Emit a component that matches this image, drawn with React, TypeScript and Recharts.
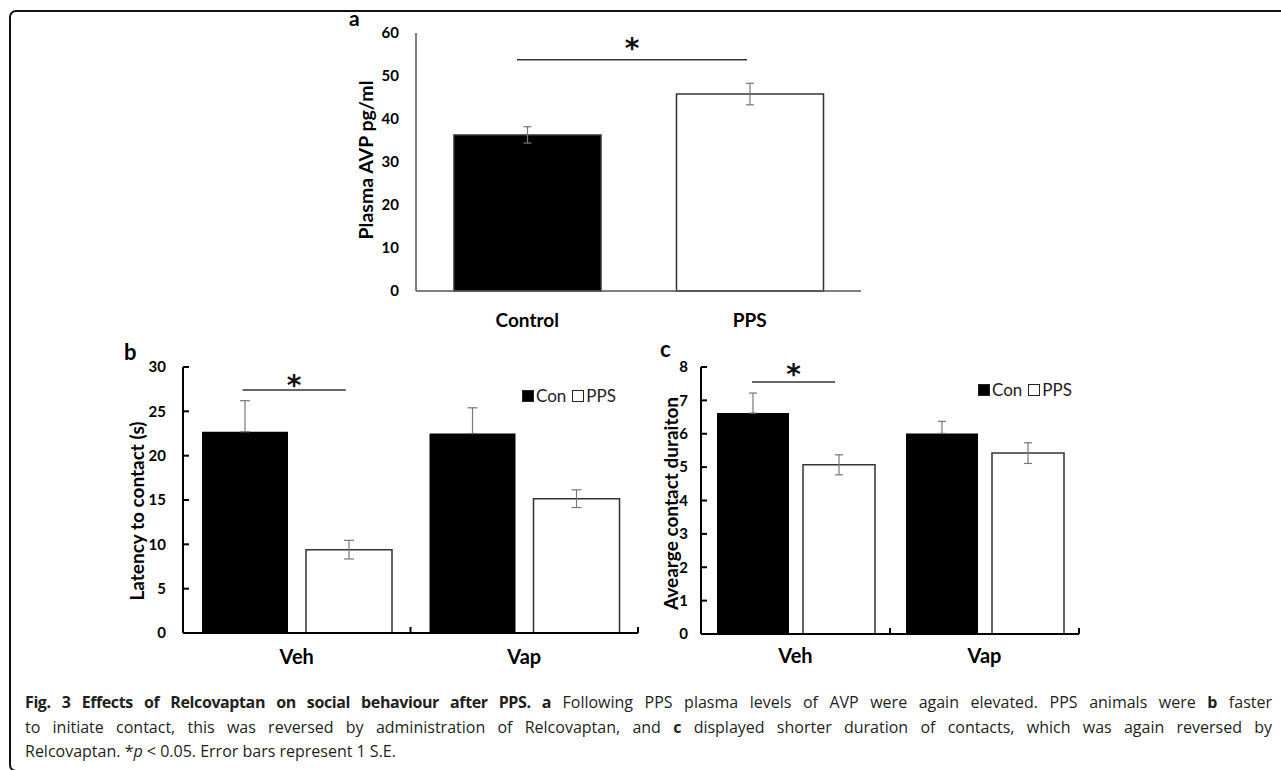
import React from "react";
import { BarChart, Bar, XAxis, YAxis, ErrorBar, Cell, Legend, ReferenceLine, Label } from "recharts";

const FONT = 'Lato, "Open Sans", sans-serif';

// panel a
const avpCategories = ["Control", "PPS"];
const avpValues = [36.3, 45.8];
const avpErrors = [1.9, 2.5];
const avpFills = ["#000000", "#ffffff"];
const avpTicks = [0, 10, 20, 30, 40, 50, 60];

// panels b and c share groups
const groupCategories = ["Veh", "Vap"];

const latencyCon = [22.7, 22.5];
const latencyConErr = [3.5, 2.9];
const latencyPps = [9.4, 15.15];
const latencyPpsErr = [1.05, 1.0];
const latencyTicks = [0, 5, 10, 15, 20, 25, 30];

const durationCon = [6.62, 6.01];
const durationConErr = [0.6, 0.36];
const durationPps = [5.07, 5.42];
const durationPpsErr = [0.3, 0.31];
const durationTicks = [0, 1, 2, 3, 4, 5, 6, 7, 8];

// significance bars: x as fraction of the x axis, y in data units
const avpSig = { x: [0.227, 0.744], y: 53.8 };
const latencySig = { x: [0.131, 0.3576], y: 27.4 };
const durationSig = { x: [0.135, 0.3545], y: 7.55 };

const avpData = avpCategories.map((c, i) => ({ name: c, value: avpValues[i], err: avpErrors[i] }));
const latencyData = groupCategories.map((g, i) => ({
  group: g,
  con: latencyCon[i],
  conErr: [0, latencyConErr[i]],
  pps: latencyPps[i],
  ppsErr: latencyPpsErr[i],
}));
const durationData = groupCategories.map((g, i) => ({
  group: g,
  con: durationCon[i],
  conErr: [0, durationConErr[i]],
  pps: durationPps[i],
  ppsErr: durationPpsErr[i],
}));

const XTick = ({ x, y, payload, dy, size, band }: any) => (
  <g>
    {band ? (
      <line x1={x + band / 2} y1={y} x2={x + band / 2} y2={y - 6} stroke="#000" strokeWidth={2} />
    ) : null}
    <text x={x} y={y + dy} textAnchor="middle" fontSize={size} fontWeight={700} fill="#000" fontFamily={FONT}>
      {payload.value}
    </text>
  </g>
);

const rotatedLabel = (text: string, dx: number, dy: number, size: number) => (props: any) => {
  const vb = props.viewBox;
  const cx = vb.x + dx;
  const cy = vb.y + vb.height / 2 + dy;
  return (
    <text
      x={cx}
      y={cy}
      transform={`rotate(-90 ${cx} ${cy})`}
      textAnchor="middle"
      dominantBaseline="central"
      fontSize={size}
      fontWeight={700}
      fill="#000"
      fontFamily={FONT}
    >
      {text}
    </text>
  );
};

const LegendContent = ({ payload }: any) => (
  <div style={{ display: "flex", alignItems: "center", fontFamily: FONT, fontSize: 17, color: "#222", whiteSpace: "nowrap" }}>
    {(payload || []).map((p: any, i: number) => (
      <span key={i} style={{ display: "flex", alignItems: "center", marginRight: 6 }}>
        <span
          style={{
            display: "inline-block",
            boxSizing: "border-box",
            width: 12,
            height: 12,
            background: p.payload?.fill ?? p.color,
            border: "1.5px solid #222",
            marginRight: 2,
          }}
        />
        {p.value}
      </span>
    ))}
  </div>
);

const starLabel = (offset: number) => ({
  value: "*",
  position: "top" as const,
  offset,
  fill: "#111",
  fontSize: 28,
  fontWeight: 700,
  fontFamily: '"DejaVu Sans", sans-serif',
});

const App = () => (
  <div style={{ position: "absolute", left: 0, top: 0, width: 1281, height: 770, overflow: "hidden", background: "#fff", fontFamily: FONT }}>
    {/* frame */}
    <div
      style={{
        position: "absolute",
        left: 9,
        top: 10,
        width: 1320,
        height: 762,
        boxSizing: "border-box",
        border: "2px solid #111",
        borderRadius: 7,
      }}
    />

    <div style={{ position: "absolute", left: 349, top: 5, fontSize: 21, fontWeight: 700 }}>a</div>
    <div style={{ position: "absolute", left: 124, top: 338, fontSize: 22, fontWeight: 700 }}>b</div>
    <div style={{ position: "absolute", left: 660, top: 335, fontSize: 22, fontWeight: 700 }}>c</div>

    {/* a */}
    <div style={{ position: "absolute", left: 340, top: 0 }}>
      <BarChart width={540} height={340} data={avpData} margin={{ top: 33, right: 19, bottom: 9, left: 0 }} barCategoryGap={38}>
        <XAxis
          dataKey="name"
          height={40}
          axisLine={{ stroke: "#555", strokeWidth: 1.5 }}
          tickLine={false}
          tickSize={0}
          tickMargin={0}
          interval={0}
          tick={<XTick dy={36} size={19} />}
        />
        <XAxis xAxisId="n" type="number" domain={[0, 1]} allowDataOverflow hide />
        <YAxis
          width={76}
          domain={[0, 60]}
          ticks={avpTicks}
          interval={0}
          axisLine={{ stroke: "#555", strokeWidth: 1.5 }}
          tickLine={false}
          tickSize={0}
          tickMargin={17}
          tick={{ fontSize: 15, fontWeight: 700, fill: "#000" }}
        >
          <Label content={rotatedLabel("Plasma AVP pg/ml", 25, -2, 19.5)} />
        </YAxis>
        <Bar dataKey="value" stroke="#333" strokeWidth={1.5} isAnimationActive={false}>
          {avpData.map((d, i) => (
            <Cell key={d.name} fill={avpFills[i]} />
          ))}
          <ErrorBar dataKey="err" width={4} stroke="#777" strokeWidth={1.2} />
        </Bar>
        <ReferenceLine
          xAxisId="n"
          segment={[
            { x: avpSig.x[0], y: avpSig.y },
            { x: avpSig.x[1], y: avpSig.y },
          ]}
          stroke="#333"
          strokeWidth={1.5}
          label={starLabel(1.5)}
        />
      </BarChart>
    </div>

    {/* b */}
    <div style={{ position: "absolute", left: 100, top: 340 }}>
      <BarChart width={560} height={330} data={latencyData} margin={{ top: 27, right: 22, bottom: 0, left: 0 }} barCategoryGap={19} barGap={18}>
        <XAxis
          dataKey="group"
          height={37}
          axisLine={{ stroke: "#000", strokeWidth: 2 }}
          tickLine={false}
          tickSize={0}
          tickMargin={0}
          interval={0}
          tick={<XTick dy={31} size={20} band={227.5} />}
        />
        <XAxis xAxisId="n" type="number" domain={[0, 1]} allowDataOverflow hide />
        <YAxis
          width={83}
          domain={[0, 30]}
          ticks={latencyTicks}
          interval={0}
          axisLine={{ stroke: "#000", strokeWidth: 2 }}
          tickLine={{ stroke: "#000", strokeWidth: 2 }}
          tickSize={-6}
          tickMargin={23}
          tick={{ fontSize: 15, fontWeight: 700, fill: "#000" }}
        >
          <Label content={rotatedLabel("Latency to contact (s)", 36, 11, 19)} />
        </YAxis>
        <Bar dataKey="con" name="Con" fill="#000" isAnimationActive={false}>
          <ErrorBar dataKey="conErr" width={5} stroke="#777" strokeWidth={1.2} />
        </Bar>
        <Bar dataKey="pps" name="PPS" fill="#fff" stroke="#333" strokeWidth={1.5} isAnimationActive={false}>
          <ErrorBar dataKey="ppsErr" width={5} stroke="#777" strokeWidth={1.2} />
        </Bar>
        <ReferenceLine
          xAxisId="n"
          segment={[
            { x: latencySig.x[0], y: latencySig.y },
            { x: latencySig.x[1], y: latencySig.y },
          ]}
          stroke="#333"
          strokeWidth={1.5}
          label={starLabel(-4.5)}
        />
        <Legend
          layout="horizontal"
          verticalAlign="middle"
          align="center"
          content={<LegendContent />}
          wrapperStyle={{ left: 422, top: 45, width: "auto", height: "auto" }}
        />
      </BarChart>
    </div>

    {/* c */}
    <div style={{ position: "absolute", left: 620, top: 340 }}>
      <BarChart width={480} height={330} data={durationData} margin={{ top: 27, right: 21, bottom: 0, left: 0 }} barCategoryGap={16} barGap={14}>
        <XAxis
          dataKey="group"
          height={36}
          axisLine={{ stroke: "#000", strokeWidth: 2 }}
          tickLine={false}
          tickSize={0}
          tickMargin={0}
          interval={0}
          tick={<XTick dy={29} size={20} band={189} />}
        />
        <XAxis xAxisId="n" type="number" domain={[0, 1]} allowDataOverflow hide />
        <YAxis
          width={81}
          domain={[0, 8]}
          ticks={durationTicks}
          interval={0}
          axisLine={{ stroke: "#000", strokeWidth: 2 }}
          tickLine={{ stroke: "#000", strokeWidth: 2 }}
          tickSize={-6}
          tickMargin={19}
          tick={{ fontSize: 15, fontWeight: 700, fill: "#000" }}
        >
          <Label content={rotatedLabel("Avearge contact duraiton", 50, 3, 19)} />
        </YAxis>
        <Bar dataKey="con" name="Con" fill="#000" isAnimationActive={false}>
          <ErrorBar dataKey="conErr" width={4} stroke="#777" strokeWidth={1.2} />
        </Bar>
        <Bar dataKey="pps" name="PPS" fill="#fff" stroke="#333" strokeWidth={1.5} isAnimationActive={false}>
          <ErrorBar dataKey="ppsErr" width={4} stroke="#777" strokeWidth={1.2} />
        </Bar>
        <ReferenceLine
          xAxisId="n"
          segment={[
            { x: durationSig.x[0], y: durationSig.y },
            { x: durationSig.x[1], y: durationSig.y },
          ]}
          stroke="#333"
          strokeWidth={1.5}
          label={starLabel(-1.5)}
        />
        <Legend
          layout="horizontal"
          verticalAlign="middle"
          align="center"
          content={<LegendContent />}
          wrapperStyle={{ left: 358, top: 39, width: "auto", height: "auto" }}
        />
      </BarChart>
    </div>

    {/* caption */}
    <div
      style={{
        position: "absolute",
        left: 25,
        top: 690,
        width: 1247,
        fontSize: 16,
        lineHeight: "24.5px",
        color: "#231f20",
        fontFamily: '"Open Sans", sans-serif',
      }}
    >
      <div style={{ textAlign: "justify", textAlignLast: "justify", whiteSpace: "nowrap" }}>
        <b style={{ letterSpacing: -0.4 }}>Fig. 3 Effects of Relcovaptan on social behaviour after PPS. a</b> Following PPS
        plasma levels of AVP were again elevated. PPS animals were <b>b</b> faster
      </div>
      <div style={{ textAlign: "justify", textAlignLast: "justify", whiteSpace: "nowrap" }}>
        to initiate contact, this was reversed by administration of Relcovaptan, and <b>c</b> displayed shorter duration of
        contacts, which was again reversed by
      </div>
      <div>
        Relcovaptan. *<i>p</i> &lt; 0.05. Error bars represent 1 S.E.
      </div>
    </div>
  </div>
);

export default App;
